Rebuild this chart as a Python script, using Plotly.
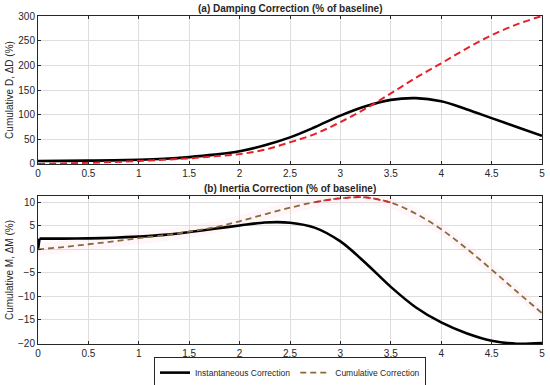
import plotly.graph_objects as go

# ---- data ----
t = [0, 0.25, 0.5, 0.75, 1, 1.25, 1.5, 1.75, 2, 2.25, 2.5, 2.75, 3, 3.25, 3.5,
     3.75, 4, 4.25, 4.5, 4.75, 5]

damp_inst = [6, 6.3, 6.8, 7.4, 8.5, 10.5, 14, 19, 26, 38, 54, 75, 98, 117, 130,
             133.5, 127, 111, 93, 75, 57]
damp_cum = [0, 1.2, 2.5, 4, 6, 8.5, 11.5, 15.5, 20, 29, 44, 61, 85, 112, 143,
            175, 204, 234, 261, 283, 300]

t_inert = [0, 0.015, 0.25, 0.5, 0.75, 1, 1.25, 1.5, 1.75, 2, 2.25, 2.5, 2.75, 3,
           3.25, 3.5, 3.75, 4, 4.25, 4.5, 4.75, 5]
inert_inst = [0, 2.3, 2.3, 2.35, 2.5, 2.75, 3.1, 3.7, 4.4, 5.1, 5.75, 5.7, 4.6, 1.7,
              -2.9, -8.0, -12.4, -15.6, -17.9, -19.5, -20.15, -20.0]
inert_cum = [0, 0.5, 1.1, 1.7, 2.4, 3.0, 3.8, 4.7, 6.0, 7.5, 8.9, 10.1, 10.9,
             11.1, 10.0, 7.6, 4.3, 0.2, -4.3, -9.0, -13.6]

x_ticks = [0, 0.5, 1, 1.5, 2, 2.5, 3, 3.5, 4, 4.5, 5]
y1_ticks = [0, 50, 100, 150, 200, 250, 300]
y2_ticks = [-20, -15, -10, -5, 0, 5, 10]

FONT = "Liberation Sans, Arial, sans-serif"
BLACK = "#000000"
RED = "#e8202a"
BROWN = "#8a6a3a"
TXT = "#262626"

fig = go.Figure()

# top: damping
fig.add_trace(go.Scatter(x=t, y=damp_inst, mode="lines", line=dict(color=BLACK, width=2.6, shape="spline", smoothing=1.0),
                         showlegend=False, xaxis="x", yaxis="y"))
fig.add_trace(go.Scatter(x=t, y=damp_cum, mode="lines", line=dict(color=RED, width=2, dash="7px,4px", shape="spline", smoothing=1.0),
                         showlegend=False, xaxis="x", yaxis="y"))

# bottom: inertia
band_w = 1.3
fig.add_trace(go.Scatter(x=t + t[::-1], y=[v + band_w for v in inert_cum] + [v - band_w for v in inert_cum[::-1]],
                         fill="toself", fillcolor="rgba(255,170,200,0.10)", line=dict(width=0),
                         hoverinfo="skip", showlegend=False, xaxis="x2", yaxis="y2"))
# initial step of the instantaneous correction
fig.add_trace(go.Scatter(x=t_inert[:2], y=inert_inst[:2], mode="lines",
                         line=dict(color=BLACK, width=2.6), showlegend=False,
                         xaxis="x2", yaxis="y2"))
fig.add_trace(go.Scatter(x=t_inert[1:], y=inert_inst[1:], mode="lines", name="Instantaneous Correction",
                         line=dict(color=BLACK, width=2.6, shape="spline", smoothing=0.9),
                         xaxis="x2", yaxis="y2"))
fig.add_trace(go.Scatter(x=t, y=inert_cum, mode="lines", name="Cumulative Correction",
                         line=dict(color=BROWN, width=1.8, dash="6px,4px", shape="spline", smoothing=1.0),
                         xaxis="x2", yaxis="y2"))
peak_t = [x for x, v in zip(t, inert_cum) if v >= 10]
peak_v = [v for v in inert_cum if v >= 10]
fig.add_trace(go.Scatter(x=peak_t, y=peak_v, mode="lines", line=dict(color=RED, width=1.8, dash="6px,4px", shape="spline", smoothing=1.0),
                         showlegend=False, xaxis="x2", yaxis="y2"))

axis_common = dict(showline=True, linecolor=TXT, linewidth=1, mirror="allticks",
                   ticks="inside", ticklen=3, tickcolor=TXT, automargin=False,
                   showgrid=True, gridcolor="#dedede", gridwidth=1, zeroline=False,
                   tickfont=dict(family=FONT, size=10, color=TXT))

ytitle_font = dict(family=FONT, size=10, color=TXT)

fig.update_layout(
    width=550, height=385,
    margin=dict(l=38, r=8, t=16, b=41, autoexpand=False),
    paper_bgcolor="white", plot_bgcolor="white",
    font=dict(family=FONT, size=10, color=TXT),
    xaxis=dict(domain=[0, 1], range=[-0.0001, 5.0001], tickvals=x_ticks, anchor="y", **axis_common),
    yaxis=dict(domain=[0.5488, 1], range=[0, 300], tickvals=y1_ticks, anchor="x",
               title=dict(text="Cumulative D, ΔD (%)", font=ytitle_font, standoff=2),
               **axis_common),
    xaxis2=dict(domain=[0, 1], range=[-0.0001, 5.0001], tickvals=x_ticks, anchor="y2", **axis_common),
    yaxis2=dict(domain=[0, 0.4512], range=[-20.2, 11.4], tickvals=y2_ticks, anchor="x2",
                title=dict(text="Cumulative M, ΔM (%)", font=ytitle_font, standoff=2),
                **axis_common),
    legend=dict(orientation="h", x=0.5, xanchor="center", y=-0.04, yanchor="top",
                bordercolor=TXT, borderwidth=1, bgcolor="white",
                font=dict(family=FONT, size=8.5, color=TXT),
                itemwidth=30, tracegroupgap=0),
    annotations=[
        dict(text="<b>(a) Damping Correction (% of baseline)</b>", x=0.5, y=1.0, xref="paper", yref="paper",
             xanchor="center", yanchor="bottom", yshift=0, showarrow=False,
             font=dict(family=FONT, size=10, color=TXT)),
        dict(text="<b>(b) Inertia Correction (% of baseline)</b>", x=0.5, y=0.4512, xref="paper", yref="paper",
             xanchor="center", yanchor="bottom", yshift=0, showarrow=False,
             font=dict(family=FONT, size=10, color=TXT)),
    ],
)

fig.write_html("out.html", config={"displayModeBar": False},
               post_script="document.body.style.margin='0';document.body.style.padding='0';")
